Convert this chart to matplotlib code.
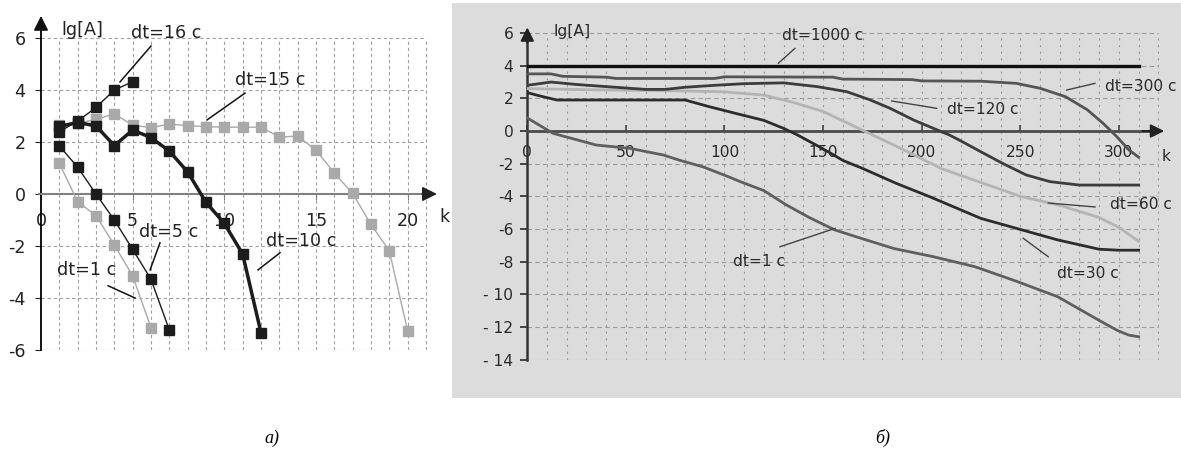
import numpy as np
import matplotlib.pyplot as plt
from matplotlib.patches import Rectangle

plt.rcParams['font.family'] = ['DejaVu Sans']
plt.rcParams['axes.unicode_minus'] = False

# ---- left chart (a): lg[A] vs k, small dt ----
k16 = [1, 2, 3, 4, 5]
lg16 = [2.4, 2.8, 3.33, 4.0, 4.32]
k15 = list(range(1, 21))
lg15 = [2.65, 2.72, 2.87, 3.08, 2.65, 2.55, 2.69, 2.63, 2.59, 2.57,
        2.57, 2.57, 2.19, 2.23, 1.69, 0.81, 0.02, -1.17, -2.18, -5.26]
k10 = list(range(1, 13))
lg10 = [2.6, 2.75, 2.62, 1.86, 2.46, 2.17, 1.65, 0.85, -0.32, -1.13, -2.31, -5.33]
k5 = list(range(1, 8))
lg5 = [1.85, 1.03, 0.0, -1.0, -2.13, -3.28, -5.23]
k1 = list(range(1, 7))
lg1 = [1.18, -0.3, -0.83, -1.96, -3.15, -5.14]

left_xticks = [0, 5, 10, 15, 20]
left_yticks = [-6, -4, -2, 0, 2, 4, 6]

# ---- right chart (б): lg[A] vs k, large dt ----
kr_1000 = [0, 310]
lgr_1000 = [4.0, 4.0]
kr_300 = [0, 12, 18, 40, 45, 95, 100, 155, 160, 195, 200, 230, 248, 260, 273, 284, 292, 299, 305, 310]
lgr_300 = [3.5, 3.5, 3.35, 3.3, 3.22, 3.22, 3.32, 3.3, 3.18, 3.15, 3.07, 3.05, 2.92, 2.62, 2.1,
           1.3, 0.47, -0.35, -1.15, -1.6]
kr_120 = [0, 12, 25, 40, 60, 70, 80, 95, 110, 130, 147, 162, 174, 184, 196, 208, 214, 219,
          230, 241, 253, 265, 280, 310]
lgr_120 = [2.8, 3.0, 2.85, 2.72, 2.55, 2.55, 2.68, 2.8, 2.9, 2.95, 2.72, 2.41, 1.9, 1.39,
           0.67, 0.06, -0.24, -0.55, -1.27, -1.98, -2.69, -3.1, -3.31, -3.31]
kr_60 = [0, 20, 50, 80, 100, 120, 135, 150, 170, 190, 210, 230, 250, 270, 290, 300, 310]
lgr_60 = [2.6, 2.55, 2.5, 2.45, 2.4, 2.2, 1.75, 1.2, 0.05, -1.1, -2.3, -3.15, -4.0, -4.55,
          -5.3, -5.9, -6.75]
kr_30 = [0, 8, 15, 80, 92, 105, 120, 130, 137, 148, 154, 160, 170, 187, 204, 214, 230,
         248, 269, 290, 300, 310]
lgr_30 = [2.35, 2.1, 1.9, 1.9, 1.5, 1.1, 0.65, 0.16, -0.24, -0.96, -1.37, -1.8, -2.29,
          -3.2, -4.02, -4.53, -5.35, -5.96, -6.67, -7.24, -7.3, -7.3]
kr_1 = [0, 13, 35, 52, 69, 77, 89, 102, 108, 120, 131, 143, 156, 170, 186, 206, 227, 248,
        269, 290, 299, 305, 310]
lgr_1 = [0.8, -0.14, -0.86, -1.06, -1.47, -1.78, -2.19, -2.8, -3.1, -3.65, -4.5, -5.3,
         -6.06, -6.6, -7.2, -7.7, -8.31, -9.2, -10.15, -11.6, -12.2, -12.5, -12.6]

right_xticks = [0, 50, 100, 150, 200, 250, 300]
right_yticks = [-14, -12, -10, -8, -6, -4, -2, 0, 2, 4, 6]
right_ylabels = ['- 14', '- 12', '- 10', '-8', '-6', '-4', '-2', '0', '2', '4', '6']

W, H = 1181, 463
fig = plt.figure(figsize=(W / 100, H / 100), dpi=100)
fig.patch.set_facecolor('white')

# gray panel behind right chart
panel = Rectangle((452 / W, 1 - 398 / H), (W - 452) / W, (398 - 3) / H,
                  transform=fig.transFigure, facecolor='#dcdcdc', edgecolor='none', zorder=-10)
fig.add_artist(panel)

BLACK = '#1c1c1c'
GRAY = '#a9a9a9'

# ================= left =================
ax = fig.add_axes([41 / W, 1 - 350 / H, 394.1 / W, 335.4 / H])
ax.set_xlim(0, 21.5)
ax.set_ylim(-6, 6.9)
ax.patch.set_alpha(0)

gx = np.arange(1, 22)
ax.vlines(gx, -6, 6, colors='#a0a0a0', linestyles=(0, (3, 2.5)), lw=0.8, zorder=1)
gy = [-6, -4, -2, 2, 4, 6]
ax.hlines(gy, 0, 21, colors='#a0a0a0', linestyles=(0, (3, 2.5)), lw=0.8, zorder=1)

ax.plot(k1, lg1, '-s', color=GRAY, lw=1, ms=7, zorder=3)
ax.plot(k15, lg15, '-s', color=GRAY, lw=1, ms=7, zorder=3)
ax.plot(k16, lg16, '-s', color=BLACK, lw=1, ms=7, zorder=4)
ax.plot(k5, lg5, '-s', color=BLACK, lw=1, ms=7, zorder=4)
ax.plot(k10, lg10, '-s', color=BLACK, lw=2.5, ms=7, zorder=4)

for s in ['top', 'right']:
    ax.spines[s].set_visible(False)
ax.spines['bottom'].set_position(('data', 0))
ax.spines['bottom'].set_color('#808080')
ax.spines['bottom'].set_linewidth(1.5)
ax.spines['bottom'].set_bounds(-0.1, 21.0)
ax.spines['left'].set_color('black')
ax.spines['left'].set_linewidth(1.3)
ax.spines['left'].set_bounds(-6, 6.3)

fs = 12.6
ax.set_xticks(left_xticks)
ax.set_yticks(left_yticks)
ax.tick_params(axis='x', direction='out', length=4, pad=9, labelsize=fs,
               colors='#808080', labelcolor='#222')
ax.tick_params(axis='y', direction='out', length=4, pad=7, labelsize=fs, colors='#222')

ax.annotate('', xy=(21.6, 0), xytext=(20.8, 0), annotation_clip=False,
            arrowprops=dict(arrowstyle='-|>', mutation_scale=22, color='#222', lw=1.2,
                            shrinkA=0, shrinkB=0))
ax.annotate('', xy=(0, 6.85), xytext=(0, 6.2), annotation_clip=False,
            arrowprops=dict(arrowstyle='-|>', mutation_scale=22, color='#111', lw=1.2,
                            shrinkA=0, shrinkB=0))

ax.text(1.1, 6.3, 'lg[A]', fontsize=fs, va='center', ha='left', color='#222')
ax.text(21.75, -0.9, 'k', fontsize=fs, va='center', ha='left', color='#222', clip_on=False)

lab_l = [
    ('dt=16 с', 4.9, 6.19, (6.0, 5.69), (4.31, 4.31)),
    ('dt=15 с', 10.6, 4.38, (11.13, 3.88), (9.06, 2.85)),
    ('dt=5 с', 5.35, -1.46, (6.49, -1.88), (5.95, -2.92)),
    ('dt=1 с', 0.87, -2.92, (3.66, -3.53), (5.13, -4.0)),
    ('dt=10 с', 12.25, -1.81, (13.04, -2.26), (11.84, -2.92)),
]
for txt, tx, ty, p0, p1 in lab_l:
    ax.text(tx, ty, txt, fontsize=fs, va='center', ha='left', color='#222', zorder=6)
    ax.plot([p0[0], p1[0]], [p0[1], p1[1]], color='#111', lw=1.1, zorder=6)

# ================= right =================
ar = fig.add_axes([527.3 / W, 1 - 359.6 / H, 638.9 / W, 334.7 / H])
ar.set_xlim(0, 324)
ar.set_ylim(-14, 6.5)
ar.patch.set_alpha(0)

gxr = np.arange(10, 330, 10)
ar.vlines(gxr, -14, 6, colors='#9a9a9a', linestyles=(0, (2, 4)), lw=0.8, zorder=1)
gyr = [-14, -12, -10, -8, -6, -4, -2, 2, 4, 6]
ar.hlines(gyr, 0, 320, colors='#9a9a9a', linestyles=(0, (4, 3)), lw=0.8, zorder=1)

ar.plot(kr_1, lgr_1, color='#5f5f5f', lw=2.0, zorder=3)
ar.plot(kr_30, lgr_30, color='#2c2c2c', lw=2.0, zorder=3)
ar.plot(kr_60, lgr_60, color='#b4b4b4', lw=2.0, zorder=3)
ar.plot(kr_120, lgr_120, color='#3c3c3c', lw=2.0, zorder=3)
ar.plot(kr_300, lgr_300, color='#555555', lw=2.0, zorder=3)
ar.plot(kr_1000, lgr_1000, color='#111111', lw=2.4, zorder=3)

for s in ['top', 'right']:
    ar.spines[s].set_visible(False)
ar.spines['bottom'].set_position(('data', 0))
ar.spines['bottom'].set_color('#4a4a4a')
ar.spines['bottom'].set_linewidth(2.0)
ar.spines['bottom'].set_bounds(0, 318)
ar.spines['left'].set_color('#333333')
ar.spines['left'].set_linewidth(1.8)
ar.spines['left'].set_bounds(-14, 5.8)

fr = 11.2
ar.set_xticks(right_xticks)
ar.set_yticks(right_yticks)
ar.set_yticklabels(right_ylabels)
ar.tick_params(axis='x', direction='in', length=4, width=1.2, pad=10, labelsize=fr,
               colors='#444', labelcolor='#2a2a2a')
ar.tick_params(axis='y', direction='out', length=5, width=1.2, pad=5, labelsize=fr,
               colors='#2a2a2a')

ar.annotate('', xy=(323, 0), xytext=(312, 0), annotation_clip=False,
            arrowprops=dict(arrowstyle='-|>', mutation_scale=20, color='#222', lw=1.5,
                            shrinkA=0, shrinkB=0))
ar.annotate('', xy=(0, 6.35), xytext=(0, 5.4), annotation_clip=False,
            arrowprops=dict(arrowstyle='-|>', mutation_scale=20, color='#222', lw=1.5,
                            shrinkA=0, shrinkB=0))

ar.text(13.1, 6.08, 'lg[A]', fontsize=fr, va='center', ha='left', color='#2a2a2a')
ar.text(321.7, -1.57, 'k', fontsize=fr, va='center', ha='left', color='#2a2a2a', clip_on=False)

lab_r = [
    ('dt=1000 с', 129, 5.88, (135.7, 5.06), (127.3, 4.15)),
    ('dt=300 с', 292.9, 2.71, (273.5, 2.51), (287.9, 2.92)),
    ('dt=120 с', 212.7, 1.29, (184.8, 1.84), (207.6, 1.39)),
    ('dt=60 с', 295.5, -4.53, (264.2, -4.41), (287.9, -4.65)),
    ('dt=30 с', 268.5, -8.71, (251.5, -6.57), (264.2, -7.7)),
    ('dt=1 с', 104.3, -8.0, (128.1, -7.09), (156.1, -5.96)),
]
for txt, tx, ty, p0, p1 in lab_r:
    ar.text(tx, ty, txt, fontsize=fr, va='center', ha='left', color='#2a2a2a', zorder=6,
            clip_on=False)
    ar.plot([p0[0], p1[0]], [p0[1], p1[1]], color='#444', lw=1.0, zorder=6)

# captions
fig.text(272 / W, 1 - 438 / H, 'а)', fontsize=13, style='italic', family='Liberation Serif',
         ha='center', va='center')
fig.text(883 / W, 1 - 438 / H, 'б)', fontsize=13, style='italic', family='Liberation Serif',
         ha='center', va='center')

fig.savefig('out.png', dpi=100)
